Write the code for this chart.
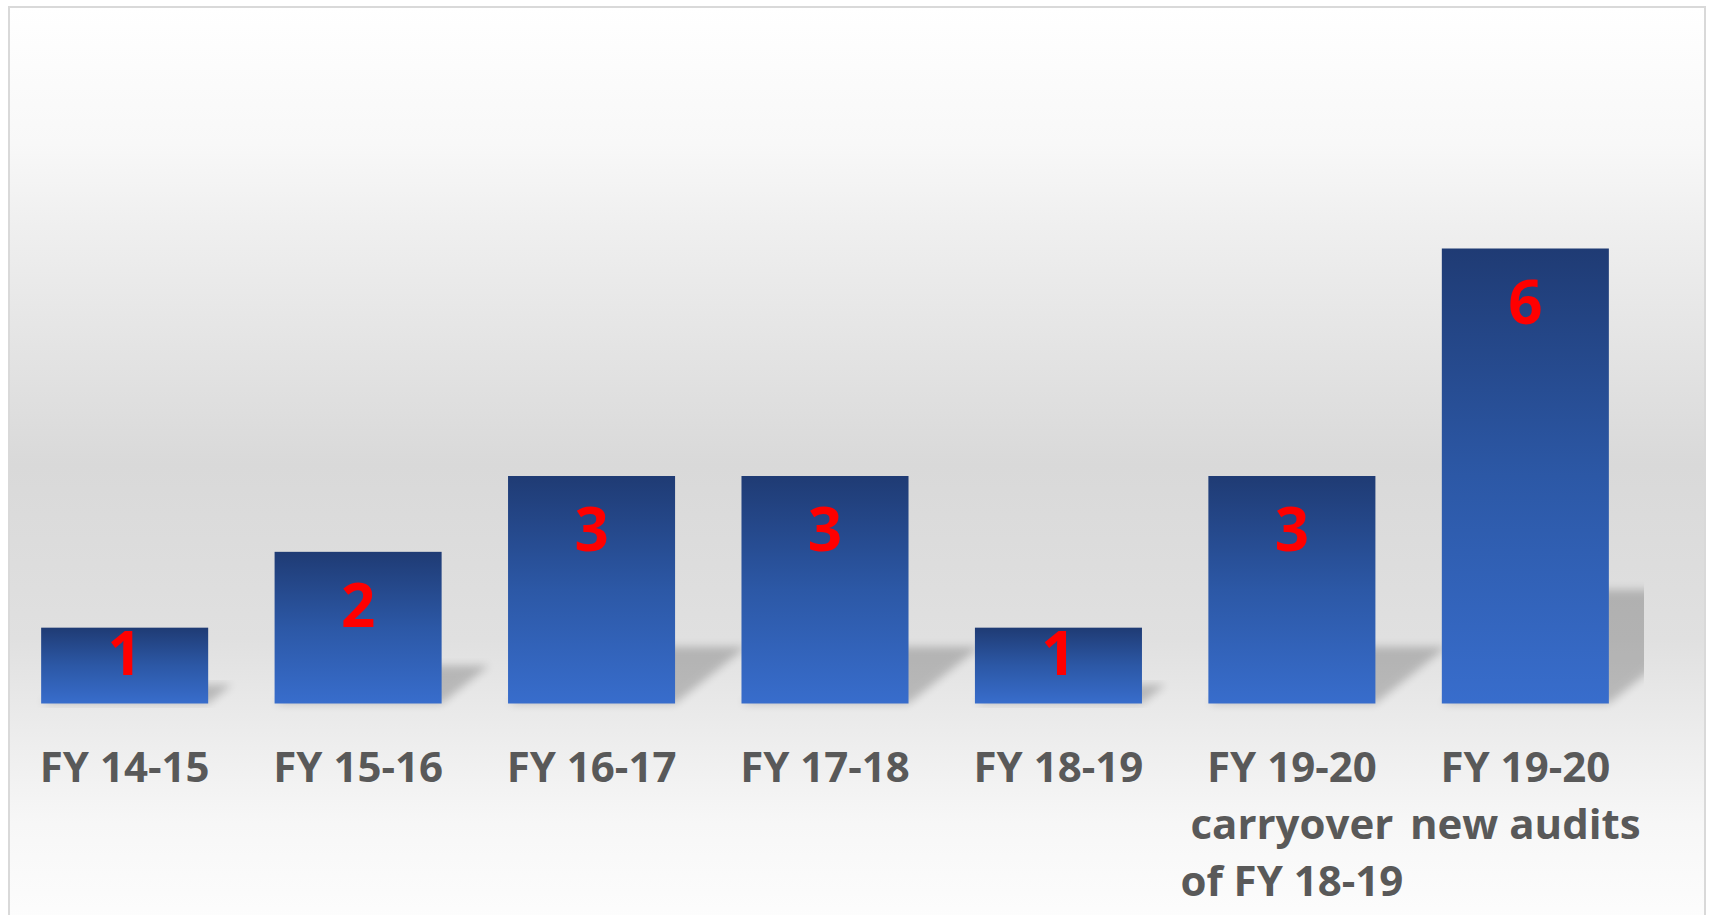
<!DOCTYPE html>
<html>
<head>
<meta charset="utf-8">
<script src="https://cdn.jsdelivr.net/npm/d3@7"></script>
<style>
  body { margin: 0; background: #fff; }
  .cat-label { font-family: "Open Sans", sans-serif; font-weight: 700; fill: #595959; }
  .val-label { font-family: "Open Sans", sans-serif; font-weight: 700; fill: #ff0000; }
</style>
</head>
<body>
<div class="chart"></div>
<script>
// DATA //
const categories = [
  "FY 14-15",
  "FY 15-16",
  "FY 16-17",
  "FY 17-18",
  "FY 18-19",
  "FY 19-20 carryover of FY 18-19",
  "FY 19-20 new audits"
];
const audits = [1, 2, 3, 3, 1, 3, 6];
const labelLines = [
  ["FY 14-15"],
  ["FY 15-16"],
  ["FY 16-17"],
  ["FY 17-18"],
  ["FY 18-19"],
  ["FY 19-20", "carryover", "of FY 18-19"],
  ["FY 19-20", "new audits"]
];

// Define Chart Sizes
const w = 1712;
const h = 915;
const frame = { x: 9, y: 7, right: 1705 };
const plot = { left: 8, right: 1642, top: 248.5, bottom: 703.5 };

// Add Main Chart svg
const svg = d3
  .select(".chart")
  .append("svg")
  .attr("width", w)
  .attr("height", h);

const defs = svg.append("defs");

// Background Gradient
const bg = defs
  .append("linearGradient")
  .attr("id", "bg")
  .attr("x1", 0).attr("y1", 0)
  .attr("x2", 0).attr("y2", 1);
[
  [0, "#ffffff"],
  [0.146, "#f8f8f8"],
  [0.235, "#efefef"],
  [0.49, "#d9d9d9"],
  [0.675, "#e0e0e0"],
  [0.774, "#ececec"],
  [0.874, "#f7f7f7"],
  [1, "#fefefe"]
].forEach(([o, c]) => bg.append("stop").attr("offset", o).attr("stop-color", c));

// Bar Gradient
const barGrad = defs
  .append("linearGradient")
  .attr("id", "barGrad")
  .attr("x1", 0).attr("y1", 0)
  .attr("x2", 0).attr("y2", 1);
barGrad.append("stop").attr("offset", 0).attr("stop-color", "#1f3b74");
barGrad.append("stop").attr("offset", 0.5).attr("stop-color", "#2c58a6");
barGrad.append("stop").attr("offset", 1).attr("stop-color", "#386dcc");

// Shadow Blur
defs
  .append("filter")
  .attr("id", "blur")
  .attr("x", "-20%").attr("y", "-20%")
  .attr("width", "140%").attr("height", "140%")
  .append("feGaussianBlur")
  .attr("stdDeviation", 4);

defs
  .append("clipPath")
  .attr("id", "plotClip")
  .append("rect")
  .attr("x", 20)
  .attr("y", 0)
  .attr("width", 1624)
  .attr("height", 712);

// Frame
svg
  .append("rect")
  .attr("x", frame.x)
  .attr("y", frame.y)
  .attr("width", frame.right - frame.x)
  .attr("height", h + 20)
  .attr("fill", "url(#bg)")
  .attr("stroke", "#d9d9d9")
  .attr("stroke-width", 2);

// SCALES //
const xScale = d3
  .scaleBand()
  .domain(categories)
  .range([plot.left, plot.right])
  .paddingInner(0.2845)
  .paddingOuter(0.142);

const yScale = d3
  .scaleLinear()
  .domain([0, 6])
  .range([plot.bottom, plot.top]);

const bw = xScale.bandwidth();

// SHADOWS //
svg
  .append("g")
  .attr("clip-path", "url(#plotClip)")
  .selectAll("path")
  .data(audits)
  .enter()
  .append("path")
  .attr("d", (d, i) => {
    const x0 = xScale(categories[i]);
    const y0 = yScale(0);
    const hs = (y0 - yScale(d)) * 0.25;
    const dx = hs * 1.25;
    return `M${x0},${y0}L${x0 + bw},${y0}L${x0 + bw + dx},${y0 - hs}L${x0 + dx},${y0 - hs}Z`;
  })
  .attr("fill", "#000")
  .attr("opacity", 0.2)
  .attr("filter", "url(#blur)");

// BARS //
svg
  .selectAll(".bar")
  .data(audits)
  .enter()
  .append("rect")
  .attr("class", "bar")
  .attr("x", (d, i) => xScale(categories[i]))
  .attr("y", (d) => yScale(d))
  .attr("width", bw)
  .attr("height", (d) => yScale(0) - yScale(d))
  .attr("fill", "url(#barGrad)");

// VALUE LABELS //
svg
  .selectAll(".val-label")
  .data(audits)
  .enter()
  .append("text")
  .attr("class", "val-label")
  .attr("text-anchor", "middle")
  .attr("font-size", 60)
  .attr("x", (d, i) => xScale(categories[i]) + bw / 2)
  .attr("y", (d) => {
    const bh = yScale(0) - yScale(d);
    return yScale(d) + Math.min(75, bh - 29);
  })
  .text((d) => d);

// CATEGORY LABELS //
const cats = svg
  .selectAll(".cat-label")
  .data(labelLines)
  .enter()
  .append("text")
  .attr("class", "cat-label")
  .attr("text-anchor", "middle")
  .attr("font-size", 42)
  .attr("x", (d, i) => xScale(categories[i]) + bw / 2)
  .attr("y", 782);

cats
  .selectAll("tspan")
  .data((d, i) => d.map((t) => ({ t, x: xScale(categories[i]) + bw / 2 })))
  .enter()
  .append("tspan")
  .attr("x", (d) => d.x)
  .attr("dy", (d, j) => (j === 0 ? 0 : 57))
  .text((d) => d.t);
</script>
</body>
</html>
